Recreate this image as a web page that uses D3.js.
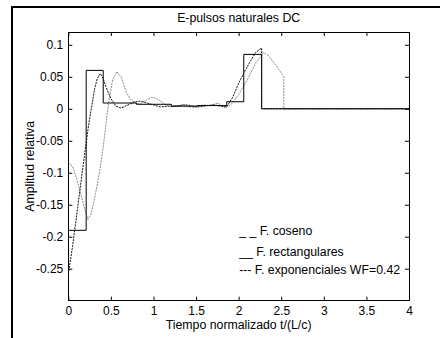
<!DOCTYPE html>
<html>
<head>
<meta charset="utf-8">
<script src="https://cdn.jsdelivr.net/npm/d3@7"></script>
<style>
  body { margin: 0; background: #fff; }
  text { font-family: "Liberation Sans", Arial, sans-serif; }
</style>
</head>
<body>
<div id="chart"></div>
<script>
// Chart data
const title = "E-pulsos naturales DC";
const xLabel = "Tiempo normalizado t/(L/c)";
const yLabel = "Amplitud relativa";
const xTicks = [0, 0.5, 1, 1.5, 2, 2.5, 3, 3.5, 4];
const xTickLabels = ["0", "0.5", "1", "1.5", "2", "2.5", "3", "3.5", "4"];
const yTicks = [-0.25, -0.2, -0.15, -0.1, -0.05, 0, 0.05, 0.1];
const yTickLabels = ["-0.25", "-0.2", "-0.15", "-0.1", "-0.05", "0", "0.05", "0.1"];
const legendLines = ["_ _ F. coseno", "__ F. rectangulares", "--- F. exponenciales WF=0.42"];

// F. rectangulares (step levels, each holds until the next t)
const rectT = [0, 0.21, 0.41, 0.80, 1.21, 1.51, 1.86, 2.06, 2.27, 4];
const rectV = [-0.19, 0.06, 0.009, 0.007, 0.004, 0.005, 0.011, 0.085, 0, 0];

// F. coseno (grey)
const cosT = [0, 0.05, 0.1, 0.15, 0.2, 0.23, 0.27, 0.32, 0.37, 0.41, 0.45, 0.48, 0.52, 0.57, 0.62, 0.68, 0.74, 0.8, 0.86, 0.92, 0.98, 1.04, 1.12, 1.2, 1.28, 1.35, 1.42, 1.5, 1.58, 1.66, 1.76, 1.84, 1.92, 2.0, 2.1, 2.2, 2.29, 2.35, 2.45, 2.53, 2.53, 4];
const cosV = [-0.084, -0.09, -0.11, -0.135, -0.16, -0.173, -0.163, -0.133, -0.096, -0.06, -0.015, 0.015, 0.045, 0.058, 0.05, 0.026, 0.013, 0.008, 0.009, 0.014, 0.018, 0.016, 0.008, 0.003, 0.004, 0.007, 0.003, 0.002, 0.006, 0.005, 0.009, 0.001, 0.008, 0.022, 0.045, 0.071, 0.088, 0.083, 0.066, 0.05, 0, 0];

// F. exponenciales WF=0.42 (black)
const expT = [0, 0.05, 0.1, 0.15, 0.2, 0.24, 0.27, 0.31, 0.34, 0.375, 0.41, 0.44, 0.5, 0.56, 0.62, 0.7, 0.78, 0.84, 0.92, 1.0, 1.08, 1.18, 1.3, 1.39, 1.47, 1.55, 1.63, 1.71, 1.79, 1.86, 1.93, 2.0, 2.07, 2.14, 2.2, 2.27, 2.27, 4];
const expV = [-0.258, -0.215, -0.165, -0.113, -0.063, -0.024, 0.0, 0.032, 0.047, 0.055, 0.047, 0.035, 0.016, 0.004, 0.001, 0.006, 0.011, 0.012, 0.009, 0.006, 0.003, 0.004, 0.005, 0.006, 0.004, 0.003, 0.005, 0.006, 0.004, 0.003, 0.018, 0.04, 0.058, 0.075, 0.088, 0.095, 0, 0];

const W = 440, H = 338;
const margin = { top: 32, right: 31, bottom: 37.3, left: 68.3 };
const width = W - margin.left - margin.right;
const height = H - margin.top - margin.bottom;

const svg = d3.select("#chart").append("svg")
    .attr("width", W)
    .attr("height", H);

// figure frame (only top and left edges show in the crop)
svg.append("rect")
    .attr("x", 12).attr("y", 7)
    .attr("width", W + 20).attr("height", H + 20)
    .attr("fill", "none")
    .attr("stroke", "#000")
    .attr("stroke-width", 2);

const chart = svg.append("g")
    .attr("transform", `translate(${margin.left}, ${margin.top})`);

const x = d3.scaleLinear().domain([0, 4]).range([0, width]);
const y = d3.scaleLinear().domain([-0.3, 0.12]).range([height, 0]);

// Axes, MATLAB style: ticks pointing inwards on all four sides
const fmtX = d => xTickLabels[xTicks.indexOf(d)];
const fmtY = d => yTickLabels[yTicks.indexOf(d)];

chart.append("g")
    .attr("transform", `translate(0, ${height})`)
    .call(d3.axisBottom(x).tickValues(xTicks).tickFormat(fmtX).tickSizeInner(-4).tickSizeOuter(0).tickPadding(6));
chart.append("g")
    .call(d3.axisTop(x).tickValues(xTicks).tickFormat("").tickSizeInner(-4).tickSizeOuter(0));
chart.append("g")
    .call(d3.axisLeft(y).tickValues(yTicks).tickFormat(fmtY).tickSizeInner(-4).tickSizeOuter(0).tickPadding(5));
chart.append("g")
    .attr("transform", `translate(${width}, 0)`)
    .call(d3.axisRight(y).tickValues(yTicks).tickFormat("").tickSizeInner(-4).tickSizeOuter(0));

chart.selectAll(".domain").remove();
chart.selectAll(".tick text")
    .attr("font-size", "12px")
    .attr("font-family", "Liberation Sans, Arial, sans-serif")
    .attr("fill", "#000");
chart.selectAll(".tick line").attr("stroke", "#000");

chart.append("rect")
    .attr("width", width).attr("height", height)
    .attr("fill", "none")
    .attr("stroke", "#000")
    .attr("stroke-width", 1)
    .attr("shape-rendering", "crispEdges");

// Series
chart.append("clipPath").attr("id", "clip")
    .append("rect").attr("width", width).attr("height", height);

const plot = chart.append("g").attr("clip-path", "url(#clip)");

const lineStep = d3.line()
    .x(d => x(d[0])).y(d => y(d[1]))
    .curve(d3.curveStepAfter);
const lineSmooth = d3.line()
    .x(d => x(d[0])).y(d => y(d[1]));

plot.append("path")
    .datum(cosT.map((t, i) => [t, cosV[i]]))
    .attr("d", lineSmooth)
    .attr("fill", "none")
    .attr("stroke", "#8a8a8a")
    .attr("stroke-width", 1)
    .attr("stroke-dasharray", "2,1");

plot.append("path")
    .datum(rectT.map((t, i) => [t, rectV[i]]))
    .attr("d", lineStep)
    .attr("fill", "none")
    .attr("stroke", "#000")
    .attr("stroke-width", 1);

plot.append("path")
    .datum(expT.map((t, i) => [t, expV[i]]))
    .attr("d", lineSmooth)
    .attr("fill", "none")
    .attr("stroke", "#111")
    .attr("stroke-width", 1)
    .attr("stroke-dasharray", "2,1");

// Legend (plain text, as in the original)
chart.selectAll("text.legend")
    .data(legendLines)
    .enter()
    .append("text")
    .attr("class", "legend")
    .attr("x", x(2) + 0.5)
    .attr("y", (d, i) => [203, 223.5, 242][i])
    .attr("font-size", "12.3px")
    .attr("fill", "#000")
    .text(d => d);

// Title and axis labels
chart.append("text")
    .attr("x", width / 2)
    .attr("y", -10)
    .attr("text-anchor", "middle")
    .attr("font-size", "12.3px")
    .text(title);

chart.append("text")
    .attr("x", width / 2)
    .attr("y", height + 28.5)
    .attr("text-anchor", "middle")
    .attr("font-size", "12.3px")
    .text(xLabel);

chart.append("text")
    .attr("transform", "rotate(-90)")
    .attr("x", -height / 2)
    .attr("y", -34)
    .attr("text-anchor", "middle")
    .attr("font-size", "12.3px")
    .text(yLabel);
</script>
</body>
</html>
